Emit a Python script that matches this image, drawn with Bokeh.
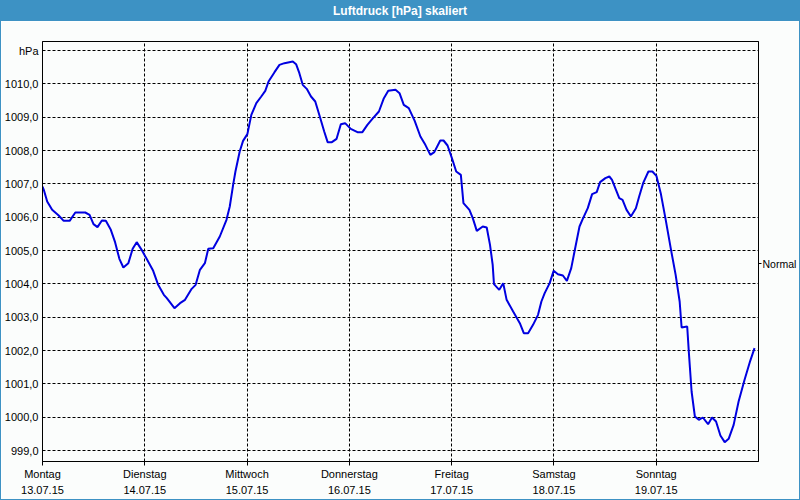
from bokeh.plotting import figure
from bokeh.models import Div, FixedTicker, LinearAxis, Range1d
from bokeh.layouts import column
from bokeh.embed import file_html
from bokeh.resources import INLINE

# hours since Monday 13.07.15 00:00
hours = [0, 0.3, 1.1, 2.26, 3.8, 4.97, 6.37, 7.7, 10.03, 11.04, 11.97, 12.9, 13.93, 14.86,
         16.03, 17.03, 18.04, 18.97, 20.14, 21.16, 22.1, 23.26, 24.43, 25.97, 27.14, 28.47,
         29.17, 30.96, 32.27, 33.44, 35.0, 35.93, 36.94, 38.1, 38.9, 40.06, 41.6, 43.17,
         43.94, 44.73, 45.27, 46.27, 47.06, 48.07, 49.0, 50.17, 51.33, 52.27, 53.04, 54.44,
         55.6, 56.77, 58.73, 59.5, 60.27, 61.06, 62.0, 63.0, 64.0, 64.94, 66.1, 66.9, 67.9,
         69.0, 70.0, 71.0, 72.33, 73.9, 75.06, 76.23, 77.4, 78.94, 80.1, 81.13, 82.83, 83.77,
         84.77, 85.94, 87.33, 88.67, 89.83, 91.0, 91.93, 93.33, 94.1, 95.04, 96.06, 97.07,
         98.16, 98.77, 100.17, 100.96, 101.9, 103.3, 104.23, 105.0, 105.63, 105.93, 107.17,
         108.1, 108.9, 110.43, 112.0, 112.93, 113.94, 115.1, 116.27, 117.06, 117.83, 119.0,
         119.93, 120.94, 122.1, 123.04, 124.06, 124.83, 126.0, 126.77, 127.94, 128.96, 130.04,
         130.83, 132.07, 133.0, 133.63, 134.56, 135.33, 136.1, 137.04, 138.06, 139.23, 140.0,
         140.93, 142.17, 143.1, 144.04, 145.06, 146.23, 147.4, 148.56, 149.5, 149.96, 151.27,
         151.67, 152.3, 153.07, 154.0, 154.94, 156.17, 157.1, 158.04, 159.06, 160.07, 161.0,
         162.17, 163.33, 164.73, 166.06, 167.07]
pressure = [1006.92, 1006.82, 1006.47, 1006.22, 1006.05, 1005.89, 1005.89, 1006.14, 1006.14,
            1006.07, 1005.79, 1005.7, 1005.9, 1005.89, 1005.62, 1005.25, 1004.75, 1004.49,
            1004.62, 1005.05, 1005.25, 1005.02, 1004.75, 1004.39, 1003.97, 1003.67, 1003.57,
            1003.27, 1003.42, 1003.52, 1003.85, 1003.97, 1004.42, 1004.62, 1005.05, 1005.07,
            1005.42, 1005.92, 1006.32, 1006.97, 1007.37, 1007.97, 1008.29, 1008.49, 1009.07,
            1009.42, 1009.62, 1009.79, 1010.07, 1010.35, 1010.57, 1010.62, 1010.67, 1010.59,
            1010.32, 1009.97, 1009.85, 1009.62, 1009.47, 1009.07, 1008.57, 1008.25, 1008.25,
            1008.35, 1008.79, 1008.82, 1008.65, 1008.55, 1008.55, 1008.77, 1008.95, 1009.17,
            1009.57, 1009.79, 1009.82, 1009.72, 1009.37, 1009.27, 1008.89, 1008.42, 1008.17,
            1007.87, 1007.95, 1008.3, 1008.3, 1008.15, 1007.77, 1007.37, 1007.27, 1006.42,
            1006.22, 1005.97, 1005.59, 1005.72, 1005.69, 1005.17, 1004.57, 1003.99, 1003.82,
            1004.02, 1003.52, 1003.17, 1002.82, 1002.52, 1002.52, 1002.77, 1003.07, 1003.47,
            1003.72, 1004.02, 1004.39, 1004.29, 1004.25, 1004.09, 1004.47, 1004.97, 1005.72,
            1005.95, 1006.27, 1006.69, 1006.75, 1007.05, 1007.17, 1007.22, 1007.12, 1006.82,
            1006.57, 1006.52, 1006.22, 1006.02, 1006.27, 1006.62, 1007.02, 1007.37, 1007.37,
            1007.24, 1006.72, 1005.92, 1005.07, 1004.27, 1003.47, 1002.69, 1002.72, 1001.92,
            1000.77, 1000.02, 999.92, 999.99, 999.79, 999.99, 999.87, 999.45, 999.25, 999.35,
            999.77, 1000.47, 1001.12, 1001.69, 1002.07]

day_ticks = [0, 24, 48, 72, 96, 120, 144]
day_names = ["Montag", "Dienstag", "Mittwoch", "Donnerstag", "Freitag", "Samstag", "Sonntag"]
dates = ["13.07.15", "14.07.15", "15.07.15", "16.07.15", "17.07.15", "18.07.15", "19.07.15"]
y_ticks = list(range(999, 1012))
y_labels = ["%d,0" % v for v in range(999, 1011)] + ["hPa"]
normal_level = 1004.6
title_text = "Luftdruck [hPa] skaliert"

FONT = "Liberation Sans"
BG = "#fbfdfc"
BLUE_BAR = "#3d92c4"

header = Div(text=title_text, width=798, height=20, margin=0,
             styles={"background-color": BLUE_BAR, "color": "white", "font-weight": "bold",
                     "font-family": FONT, "font-size": "12px", "text-align": "center",
                     "line-height": "20px"})

p = figure(width=798, height=478, x_range=Range1d(0, 168), y_range=Range1d(998.67, 1011.27),
           output_backend="svg", toolbar_location=None, title=None, margin=0,
           min_border_left=39, min_border_right=39, min_border_top=20, min_border_bottom=38,
           background_fill_color=BG, border_fill_color=BG,
           outline_line_color="black", outline_line_width=1)

p.line(hours, pressure, line_color="#0000e0", line_width=2)

# left axis
ya = p.yaxis[0]
ya.ticker = FixedTicker(ticks=y_ticks)
ya.major_label_overrides = {t: l for t, l in zip(y_ticks, y_labels)}
ya.major_tick_out = 0
ya.major_tick_in = 0
ya.minor_tick_line_color = None
ya.major_label_standoff = 4
ya.axis_line_color = "black"
ya.major_label_text_font = FONT
ya.major_label_text_font_size = "11px"
ya.major_label_text_color = "black"
p.ygrid.ticker = FixedTicker(ticks=y_ticks)
p.ygrid.grid_line_color = "black"
p.ygrid.grid_line_dash = "3 2"

# bottom axis: day names
xa = p.xaxis[0]
xa.ticker = FixedTicker(ticks=day_ticks)
xa.major_label_overrides = {t: l for t, l in zip(day_ticks, day_names)}
xa.major_tick_out = 4
xa.major_tick_in = 0
xa.minor_tick_line_color = None
xa.major_label_standoff = 2
xa.axis_line_color = "black"
xa.major_label_text_font = FONT
xa.major_label_text_font_size = "11px"
xa.major_label_text_color = "black"
p.xgrid.ticker = FixedTicker(ticks=day_ticks)
p.xgrid.grid_line_color = "black"
p.xgrid.grid_line_dash = "3 2"

# second bottom axis: dates
da = LinearAxis(ticker=FixedTicker(ticks=day_ticks),
                major_label_overrides={t: l for t, l in zip(day_ticks, dates)},
                axis_line_color=None, major_tick_line_color=None, minor_tick_line_color=None,
                major_tick_out=0, major_tick_in=0,
                major_label_standoff=3, major_label_text_font=FONT,
                major_label_text_font_size="11px", major_label_text_color="black")
p.add_layout(da, "below")

# right axis: normal pressure marker
ra = LinearAxis(ticker=FixedTicker(ticks=[normal_level]),
                major_label_overrides={normal_level: "Normal"},
                axis_line_color="black", major_tick_out=3, major_tick_in=0,
                minor_tick_line_color=None, major_label_standoff=1,
                major_label_text_font=FONT, major_label_text_font_size="10.5px",
                major_label_text_color="black")
p.add_layout(ra, "right")

layout = column(header, p, spacing=0, margin=0,
                styles={"border": "1px solid " + BLUE_BAR})
open("out.html", "w").write(file_html(layout, INLINE))
